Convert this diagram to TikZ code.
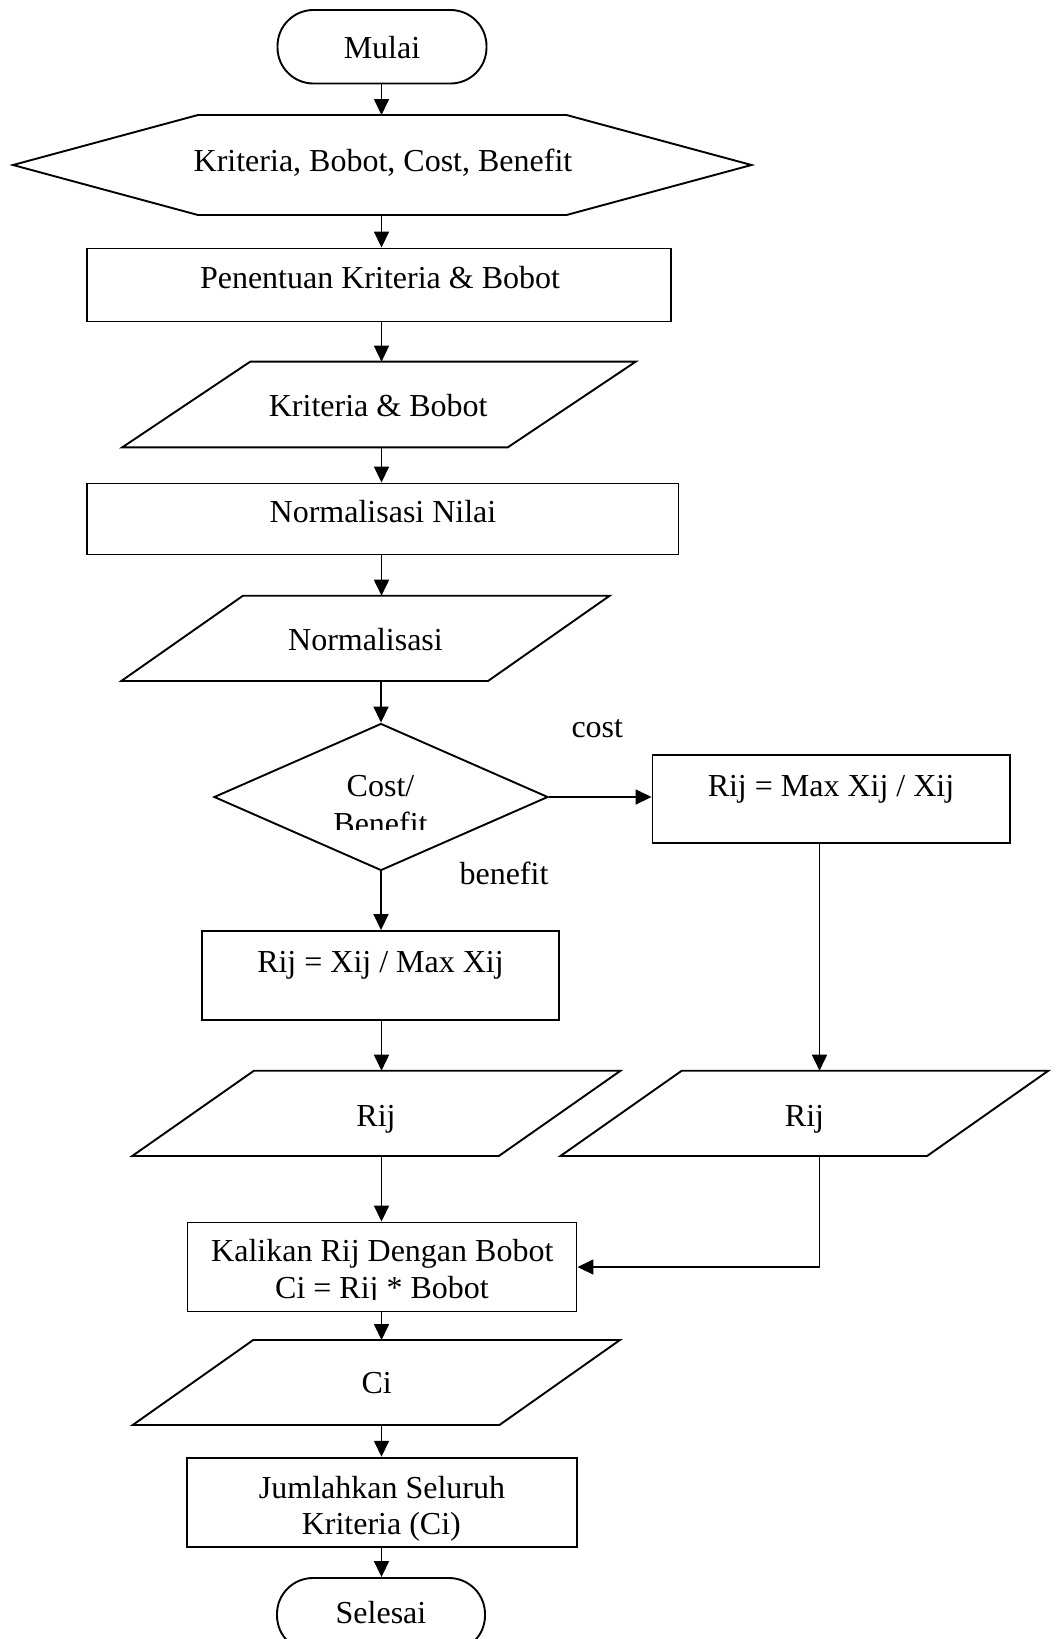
\documentclass[tikz,border=0pt]{standalone}
\usepackage{fontspec}
\setmainfont{Liberation Serif}
\usetikzlibrary{arrows.meta,calc,shapes.geometric}

% parallelogram (data) outline around an invisible frame node: #1 node, #2 horizontal slant
\newcommand\drawslanted[2]{%
  \draw[edgeline] ($(#1.north west)+(#2/2,0)$) -- ($(#1.north east)+(#2/2,0)$)
    -- ($(#1.south east)-(#2/2,0)$) -- ($(#1.south west)-(#2/2,0)$) -- cycle;}

\begin{document}
\begin{tikzpicture}[x=1pt,y=-1pt,
  edgeline/.style={draw, line width=1.9pt},
  shapeframe/.style={rectangle, inner sep=0pt, outer sep=0pt},
  procbox/.style={rectangle, inner sep=0pt, edgeline},
  termbox/.style={rectangle, inner sep=0pt, edgeline, rounded corners=36pt,
                  minimum width=209pt, minimum height=73.5pt},
  decbox/.style={diamond, edgeline, inner sep=0pt, minimum width=334pt, minimum height=147pt},
  txt/.style={font=\fontsize{32}{38}\selectfont, inner sep=0pt, anchor=base},
  flow/.style={line width=1.7pt, -{Triangle[length=16pt,width=15pt]}}]

\useasboundingbox (0,0) rectangle (1059,1639);
\clip (0,0) rectangle (1059,1639);
\fill[white] (0,0) rectangle (1059,1639);

\coordinate (axis) at (381.5,0);
\coordinate (rx) at (819.5,0);

% start
\node[termbox] (start) at (382,46.75) {};
\node[txt] (startT) at (382,58.5) {Mulai};

% input hexagon
\node[shapeframe, minimum width=738.5pt, minimum height=100pt] (hex) at (382.25,165) {};
\draw[edgeline] (hex.west) -- ($(hex.north west)+(185,0)$) -- ($(hex.north east)+(-185,0)$)
  -- (hex.east) -- ($(hex.south east)+(-185,0)$) -- ($(hex.south west)+(185,0)$) -- cycle;
\node[txt] (hexT) at (383,171) {Kriteria, Bobot, Cost, Benefit};

% criteria and weights
\node[procbox, minimum width=584pt, minimum height=73pt] (r1) at (379,285) {};
\node[txt] (r1T) at (380,288) {Penentuan Kriteria \& Bobot};

\node[shapeframe, minimum width=385.5pt, minimum height=85.7pt] (p1) at (379,404.5) {};
\drawslanted{p1}{128}
\node[txt] (p1T) at (378.2,416.5) {Kriteria \& Bobot};

% normalisation
\node[procbox, minimum width=591.5pt, minimum height=71pt] (r2) at (382.75,519) {};
\node[txt] (r2T) at (383,522.5) {Normalisasi Nilai};

\node[shapeframe, minimum width=366.7pt, minimum height=85.3pt] (p2) at (365.5,638.35) {};
\drawslanted{p2}{121.7}
\node[txt] (p2T) at (365.5,650) {Normalisasi};

% decision
\node[decbox] (dec) at (381,797) {};
\begin{scope}
  \clip (200,760) rectangle (560,829.3);
  \node[txt] (decT1) at (380.5,796.7) {Cost/};
  \node[txt] (decT2) at (380.5,834.7) {Benefit};
\end{scope}
\node[txt] (costL) at (597.3,737.7) {cost};
\node[txt] (benL) at (504,884.3) {benefit};

% cost branch
\node[procbox, minimum width=357.5pt, minimum height=88pt] (rR) at (831.25,799) {};
\node[txt] (rRT) at (831,796.7) {Rij = Max Xij / Xij};

\node[shapeframe, minimum width=366.6pt, minimum height=85.3pt] (pR) at (804.4,1113.35) {};
\drawslanted{pR}{121.3}
\node[txt] (pRT) at (804.5,1126) {Rij};

% benefit branch
\node[procbox, minimum width=357.7pt, minimum height=89pt] (rL) at (380.5,975.5) {};
\node[txt] (rLT) at (380.5,972.7) {Rij = Xij / Max Xij};

\node[shapeframe, minimum width=366.6pt, minimum height=85.3pt] (pL) at (376.4,1113.35) {};
\drawslanted{pL}{121.75}
\node[txt] (pLT) at (376,1126) {Rij};

% weighting
\node[procbox, minimum width=389pt, minimum height=89pt] (k) at (382,1267) {};
\node[txt] (kT1) at (382.3,1261.7) {Kalikan Rij Dengan Bobot};
\begin{scope}
  \clip (190,1270) rectangle (574,1299.5);
  \node[txt] (kT2) at (382,1298) {Ci = Rij * Bobot};
\end{scope}

\node[shapeframe, minimum width=366.7pt, minimum height=85pt] (pCi) at (376.3,1382.5) {};
\drawslanted{pCi}{120.5}
\node[txt] (pCiT) at (376.7,1393.3) {Ci};

% total
\node[procbox, minimum width=390pt, minimum height=89pt] (j) at (381.7,1502.2) {};
\node[txt] (jT1) at (382,1498.3) {Jumlahkan Seluruh};
\node[txt] (jT2) at (381.3,1534.3) {Kriteria (Ci)};

% end
\node[termbox, minimum width=208pt] (stop) at (381,1614.75) {};
\node[txt] (stopT) at (381,1623.3) {Selesai};

% connectors
\draw[flow] (start.south -| axis) -- (hex.north -| axis);
\draw[flow] (hex.south -| axis) -- (r1.north -| axis);
\draw[flow] (r1.south -| axis) -- (p1.north -| axis);
\draw[flow] (p1.south -| axis) -- (r2.north -| axis);
\draw[flow] (r2.south -| axis) -- (p2.north -| axis);
\draw[flow] (p2.south -| dec.north) -- (dec.north);
\draw[flow] (dec.east) -- (dec.east -| rR.west);
\draw[flow] (dec.south) -- (dec.south |- rL.north);
\draw[flow] (rL.south -| axis) -- (pL.north -| axis);
\draw[flow] (rR.south -| rx) -- (pR.north -| rx);
\draw[flow] (pL.south -| axis) -- (k.north -| axis);
\draw[flow] (pR.south -| rx) |- (k.east);
\draw[flow] (k.south -| axis) -- (pCi.north -| axis);
\draw[flow] (pCi.south -| axis) -- (j.north -| axis);
\draw[flow] (j.south -| axis) -- (stop.north -| axis);
\end{tikzpicture}
\end{document}
